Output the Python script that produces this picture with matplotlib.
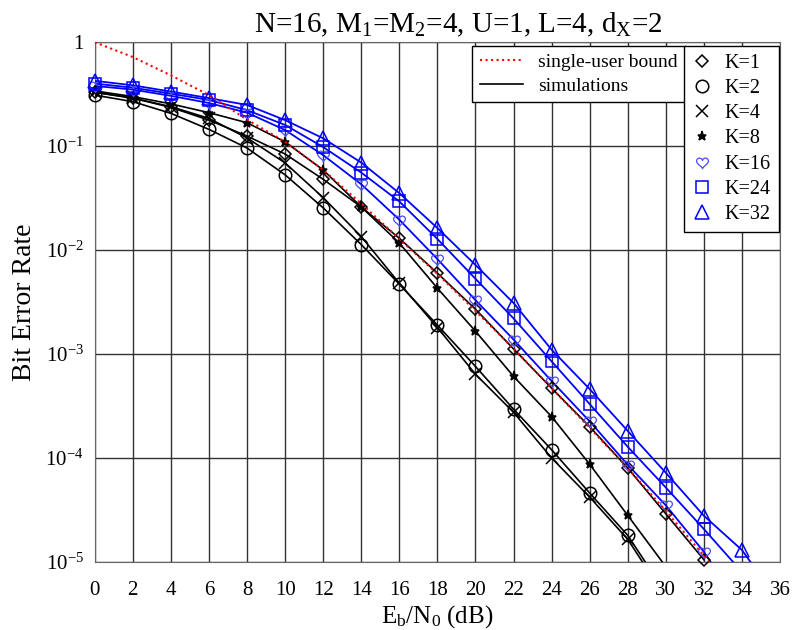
import numpy as np
import matplotlib
matplotlib.use("Agg")
import matplotlib.pyplot as plt
from matplotlib.lines import Line2D
from matplotlib.path import Path

plt.rcParams['font.family'] = ['Liberation Serif', 'DejaVu Serif']
plt.rcParams['mathtext.fontset'] = 'custom'
plt.rcParams['mathtext.rm'] = 'Liberation Serif'
plt.rcParams['mathtext.it'] = 'Liberation Serif:italic'

# Eb/N0 (dB) grids
snr_30 = [0, 2, 4, 6, 8, 10, 12, 14, 16, 18, 20, 22, 24, 26, 28, 30]
snr_32 = snr_30 + [32]
snr_34 = snr_32 + [34]
snr_36 = snr_34 + [36]

# single-user bound
bound = [1.0, 0.72, 0.48, 0.31, 0.18, 0.11, 0.059, 0.028, 0.0128, 0.0059,
         0.0026, 0.00113, 4.7e-4, 1.95e-4, 8.0e-5, 3.1e-5, 1.15e-5, 4e-6]

# simulations
ber_k1 = [0.33, 0.29, 0.236, 0.178, 0.125, 0.084, 0.048, 0.026, 0.013, 0.006,
          0.0027, 0.00112, 4.7e-4, 2.0e-4, 8.0e-5, 2.9e-5, 1.05e-5]
ber_k2 = [0.31, 0.268, 0.207, 0.145, 0.096, 0.053, 0.0255, 0.0113, 0.0047, 0.0019,
          7.6e-4, 2.95e-4, 1.2e-4, 4.6e-5, 1.8e-5, 5e-6]
ber_k4 = [0.33, 0.29, 0.24, 0.185, 0.12, 0.069, 0.032, 0.0135, 0.0048, 0.0018,
          6.4e-4, 2.75e-4, 1.0e-4, 4.2e-5, 1.65e-5, 4.5e-6]
ber_k8 = [0.34, 0.30, 0.255, 0.21, 0.168, 0.11, 0.059, 0.026, 0.0117, 0.0043,
          0.00166, 6.1e-4, 2.5e-4, 8.7e-5, 2.8e-5, 9e-6]
ber_k16 = [0.38, 0.35, 0.305, 0.26, 0.21, 0.143, 0.082, 0.043, 0.0196, 0.0082,
           0.0033, 0.00138, 5.5e-4, 2.25e-4, 8.6e-5, 3.5e-5, 1.25e-5, 3.5e-6]
ber_k24 = [0.40, 0.365, 0.32, 0.278, 0.222, 0.16, 0.098, 0.0557, 0.0294, 0.0128,
           0.0053, 0.0022, 8.5e-4, 3.3e-4, 1.28e-4, 5.2e-5, 2.07e-5, 8e-6]
ber_k32 = [0.425, 0.385, 0.335, 0.29, 0.249, 0.178, 0.119, 0.0695, 0.0353, 0.0163,
           0.0072, 0.0031, 0.0011, 4.6e-4, 1.82e-4, 7.2e-5, 2.78e-5, 1.3e-5, 4e-6]

# outline heart marker
t = np.linspace(0, 2 * np.pi, 80)
heart = Path(np.column_stack([16 * np.sin(t) ** 3,
                              13 * np.cos(t) - 5 * np.cos(2 * t)
                              - 2 * np.cos(3 * t) - np.cos(4 * t)]))

# label, x, y, marker, line colour, marker colour, size, filled
curves = [
    ("K=1", snr_32, ber_k1, 'D', 'k', 'k', 6.5, False),
    ("K=2", snr_30, ber_k2, 'o', 'k', 'k', 9, False),
    ("K=4", snr_30, ber_k4, 'x', 'k', 'k', 8, False),
    ("K=8", snr_30, ber_k8, '*', 'k', 'k', 6.5, True),
    ("K=16", snr_34, ber_k16, heart, 'b', '#4a4aff', 9, False),
    ("K=24", snr_34, ber_k24, 's', 'b', 'b', 8.5, False),
    ("K=32", snr_36, ber_k32, '^', 'b', 'b', 9.5, False),
]

fig = plt.figure(figsize=(7.96, 6.3), dpi=100)
ax = fig.add_axes([0.119, 0.108, 0.861, 0.825])

ymin = 1e-5
marker_handles = []
for label, x, y, m, lc, mc, ms, filled in curves:
    ax.plot(x, y, '-', color=lc, lw=1.3 if lc == 'b' else 1.2, zorder=3)
    x = np.array(x)
    y = np.array(y)
    keep = y >= ymin * 0.999
    h, = ax.plot(x[keep], y[keep], linestyle='none', marker=m, ms=ms,
                 mfc=mc if filled else 'none', mec=mc,
                 mew=0.9 if m is heart else 1.1, clip_on=False, zorder=4,
                 label=label)
    marker_handles.append(h)

ax.plot(snr_34, bound, ':', color='red', lw=1.5, zorder=5)

ax.set_yscale('log')
ax.set_xlim(0, 36)
ax.set_ylim(1e-5, 1)
ax.set_xticks(np.arange(0, 37, 2))
ax.set_yticks([1e-5, 1e-4, 1e-3, 1e-2, 1e-1, 1])
ax.set_yticklabels([r'$10^{-5}$', r'$10^{-4}$', r'$10^{-3}$', r'$10^{-2}$',
                    r'$10^{-1}$', '1'])
ax.yaxis.set_minor_locator(matplotlib.ticker.NullLocator())
ax.tick_params(labelsize=15, direction='in', length=0)
ax.tick_params(axis='x', pad=14)
ax.tick_params(axis='y', pad=8)
ax.grid(True, color='0.2', lw=1.0, ls='-')
ax.set_axisbelow(True)
for s in ax.spines.values():
    s.set_color('0.4')

ax.set_title(r'N=16, M$_\mathrm{1}$=M$_\mathrm{2}$=4, U=1, L=4, d$_\mathrm{X}$=2',
             fontsize=21, pad=7, x=0.53)
ax.set_xlabel(r'E$_\mathrm{b}$/N$_\mathrm{0}$ (dB)', fontsize=18, labelpad=2)
ax.set_ylabel('Bit Error Rate', fontsize=20, labelpad=6)

style_handles = [Line2D([], [], color='red', ls=':', lw=1.5),
                 Line2D([], [], color='k', ls='-', lw=1.2)]
leg1 = ax.legend(style_handles, ['single-user bound', 'simulations'],
                 loc='upper right', bbox_to_anchor=(0.862, 0.993),
                 fontsize=14, fancybox=False, edgecolor='k', framealpha=1,
                 borderaxespad=0, handlelength=2.2, labelspacing=0.3)
leg1.get_frame().set_linewidth(1.0)
ax.add_artist(leg1)
leg2 = ax.legend(handles=marker_handles, loc='upper right',
                 bbox_to_anchor=(0.998, 0.993), fontsize=14.5, fancybox=False,
                 edgecolor='k', framealpha=1, borderaxespad=0,
                 handlelength=1.0, labelspacing=0.3, handletextpad=0.6)
leg2.get_frame().set_linewidth(1.0)

fig.savefig("out.png", dpi=100)
